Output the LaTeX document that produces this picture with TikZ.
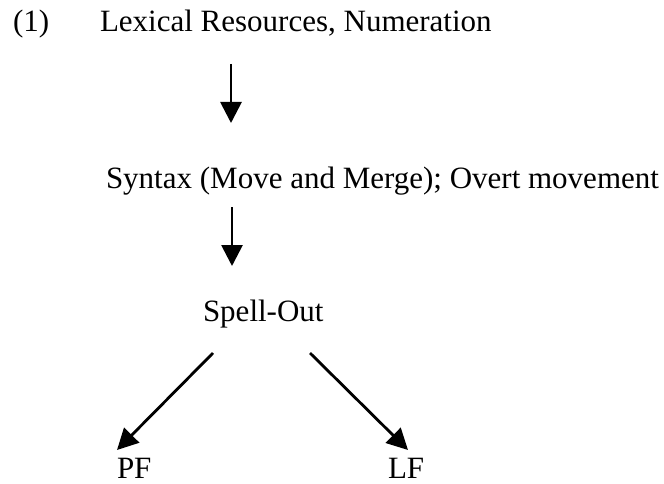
\documentclass[tikz,border=0pt]{standalone}
\usepackage{fontspec}
\setmainfont{Liberation Serif}
\usetikzlibrary{arrows.meta,calc}

\tikzset{
  label/.style={anchor=base west, inner sep=0pt, outer sep=0pt,
                font=\fontsize{31}{38}\selectfont},
  flow/.style={line width=2.8pt, -{Triangle[length=21pt,width=21pt]}},
}

\begin{document}
\begin{tikzpicture}[x=1pt, y=-1pt]
  \useasboundingbox (0,0) rectangle (664,484);

  % derivation stages
  \node[label] (num)   at (13,32)   {(1)};
  \node[label] (lex)   at (100,32)  {Lexical Resources, Numeration};
  \node[label] (syn)   at (106,189) {Syntax (Move and Merge); Overt movement};
  \node[label] (spell) at (203,321) {Spell-Out};
  \node[label, text depth=0pt] (pf) at (117,478) {PF};
  \node[label, text depth=0pt] (lf) at (388,478) {LF};

  % arrow end points, placed relative to the stages they join
  \coordinate (a1s) at ($(lex.base west)+(131,32)$);
  \coordinate (a1e) at ($(syn.base west)+(125,-66)$);
  \coordinate (a2s) at ($(syn.base west)+(126,18)$);
  \coordinate (a2e) at ($(spell.base west)+(29,-55)$);
  \coordinate (a3s) at ($(spell.base west)+(10,32)$);
  \coordinate (a3e) at ($(pf.base west)+(0,-28)$);
  \coordinate (a4s) at ($(spell.base west)+(107,32)$);
  \coordinate (a4e) at ($(lf.base west)+(20,-28)$);

  \draw[flow] (a1s) -- (a1e);
  \draw[flow] (a2s) -- (a2e);
  \draw[flow] (a3s) -- (a3e);
  \draw[flow] (a4s) -- (a4e);
\end{tikzpicture}
\end{document}
